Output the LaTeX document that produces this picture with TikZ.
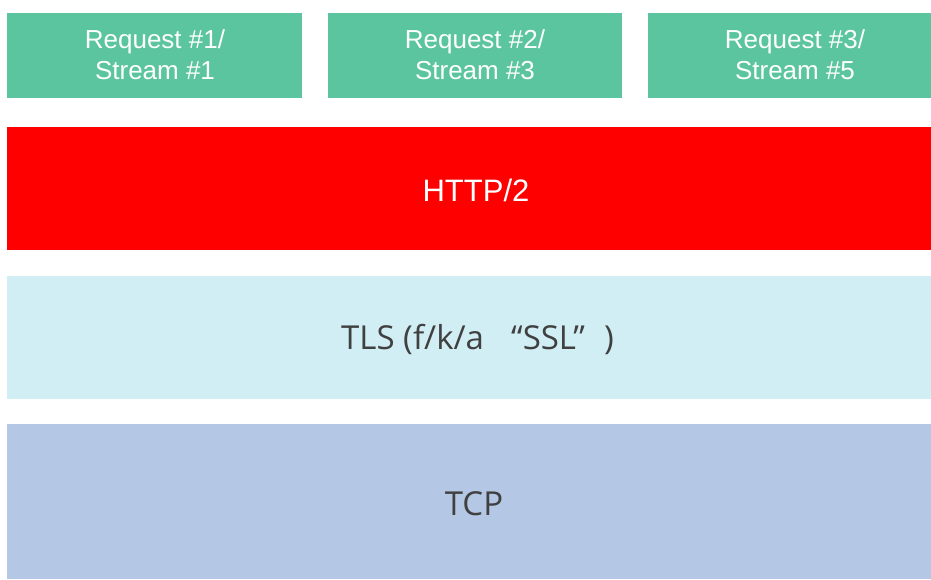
\documentclass[tikz,border=0pt]{standalone}
\usepackage{fontspec}
\setmainfont{Liberation Sans}
\newfontfamily\layerfont{Open Sans}
\begin{document}
\begin{tikzpicture}[x=1pt,y=-1pt,
  reqtext/.style={text=white,font=\fontsize{26}{31.5}\selectfont,align=center,inner sep=0pt},
  darklabel/.style={text=darktext,font=\layerfont\fontsize{33}{40}\selectfont,inner sep=0pt}]
\definecolor{reqgreen}{HTML}{5BC5A0}
\definecolor{httpred}{HTML}{FF0000}
\definecolor{tlscyan}{HTML}{D1EEF4}
\definecolor{tcpblue}{HTML}{B4C7E4}
\definecolor{darktext}{HTML}{404040}
\useasboundingbox (0,0) rectangle (931,579);
\fill[white] (0,0) rectangle (931,579);
\fill[reqgreen] (7,13) rectangle (302,98);
\fill[reqgreen] (328,13) rectangle (622,98);
\fill[reqgreen] (648,13) rectangle (931,98);
\fill[httpred] (7,127) rectangle (931,250);
\fill[tlscyan] (7,276) rectangle (931,399);
\fill[tcpblue] (7,424) rectangle (931,579);
\node[reqtext,anchor=base] (r1) at (155,79.5) {Request \#1/\\Stream \#1};
\node[reqtext,anchor=base] (r2) at (475,79.5) {Request \#2/\\Stream \#3};
\node[reqtext,anchor=base] (r3) at (795,79.5) {Request \#3/\\Stream \#5};
\node[text=white,font=\fontsize{31}{37}\selectfont,inner sep=0pt,anchor=base] (http) at (476,201) {HTTP/2};
\node[darklabel,anchor=base west] (tls) at (341,349) {TLS (f/k/a};
\node[darklabel,anchor=base west] (ssl) at (511,349) {“SSL”};
\node[darklabel,anchor=base west] (paren) at (604,349) {)};
\node[darklabel,anchor=base] (tcp) at (474,515) {TCP};
\end{tikzpicture}
\end{document}
